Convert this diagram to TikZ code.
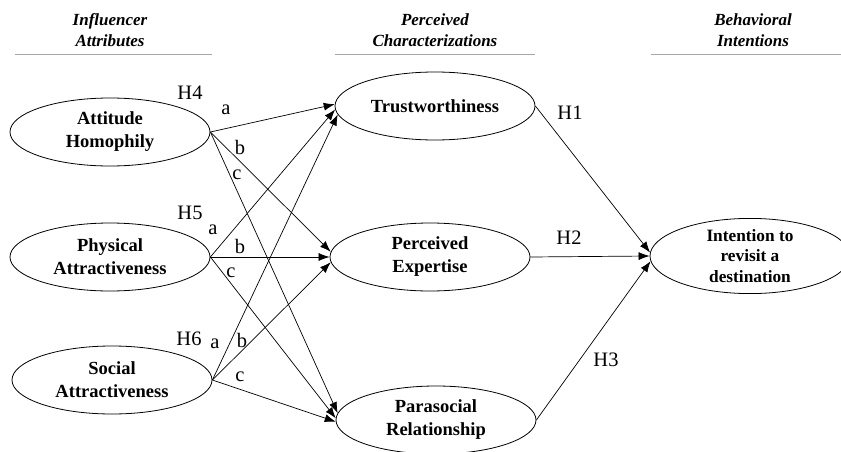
\documentclass[tikz,border=0pt]{standalone}
\usepackage{fontspec}
\setmainfont{Liberation Serif}
\usetikzlibrary{shapes.geometric,arrows.meta}
\begin{document}
\begin{tikzpicture}[x=1pt,y=-1pt,
 lat/.style={ellipse,draw,line width=0.8pt,minimum width=200pt,minimum height=68pt,inner sep=0pt,align=center,font=\fontsize{18.5}{23}\selectfont\bfseries},
 hd/.style={align=center,font=\fontsize{17}{21}\selectfont\bfseries\itshape},
 rulel/.style={draw=black!35,line width=1pt},
 pth/.style={-{Latex[length=11pt,width=8pt]},line width=0.7pt},
 lbl/.style={font=\fontsize{20.5}{21}\selectfont,inner sep=0pt}]
\useasboundingbox (0,0) rectangle (841,452);
% headers
\node[hd] (hA) at (110,30) {Influencer\\Attributes};
\node[hd] (hB) at (435,30) {Perceived\\Characterizations};
\node[hd] (hC) at (753,30) {Behavioral\\Intentions};
\coordinate (rA1) at (15,55); \coordinate (rA2) at (212,55);
\coordinate (rB1) at (335,55); \coordinate (rB2) at (535,55);
\coordinate (rC1) at (651,55); \coordinate (rC2) at (841,55);
\draw[rulel] (rA1) -- (rA2);
\draw[rulel] (rB1) -- (rB2);
\draw[rulel] (rC1) -- (rC2);
% nodes
\node[lat] (ah) at (110,132) {Attitude\\Homophily};
\node[lat] (pa) at (110,257) {Physical\\Attractiveness};
\node[lat] (sa) at (112,380) {Social\\Attractiveness};
\node[lat] (tr) at (435,106) {Trustworthiness};
\node[lat] (pe) at (430,257) {Perceived\\Expertise};
\node[lat] (pr) at (436,420) {Parasocial\\Relationship};
\node[lat,font=\fontsize{17.3}{20.5}\selectfont\bfseries] (it) at (750,256) {Intention to\\revisit a\\destination};
% arrows from left
\draw[pth] (ah.east) -- (tr.179);
\draw[pth] (ah.east) -- (pe.177);
\draw[pth] (ah.east) -- (pr.176);
\draw[pth] (pa.east) -- (tr.182.5);
\draw[pth] (pa.east) -- (pe.180);
\draw[pth] (pa.east) -- (pr.179);
\draw[pth] (sa.east) -- (tr.185);
\draw[pth] (sa.east) -- (pe.183);
\draw[pth] (sa.east) -- (pr.181);
% arrows to right
\draw[pth] (tr.east) -- (it.178);
\draw[pth] (pe.east) -- (it.180.5);
\draw[pth] (pr.east) -- (it.183);
% labels
\node[lbl] (h4) at (190,93) {H4};
\node[lbl] (l4a) at (226,110) {a};
\node[lbl] (l4b) at (240,147) {b};
\node[lbl] (l4c) at (237,175) {c};
\node[lbl] (h5) at (190,213) {H5};
\node[lbl] (l5a) at (213,230) {a};
\node[lbl] (l5b) at (240,246) {b};
\node[lbl] (l5c) at (231,273) {c};
\node[lbl] (h6) at (189,339) {H6};
\node[lbl] (l6a) at (215,344) {a};
\node[lbl] (l6b) at (242,340) {b};
\node[lbl] (l6c) at (240,377) {c};
\node[lbl] (h1) at (570,113) {H1};
\node[lbl] (h2) at (569,238) {H2};
\node[lbl] (h3) at (606,360) {H3};
\end{tikzpicture}
\end{document}
